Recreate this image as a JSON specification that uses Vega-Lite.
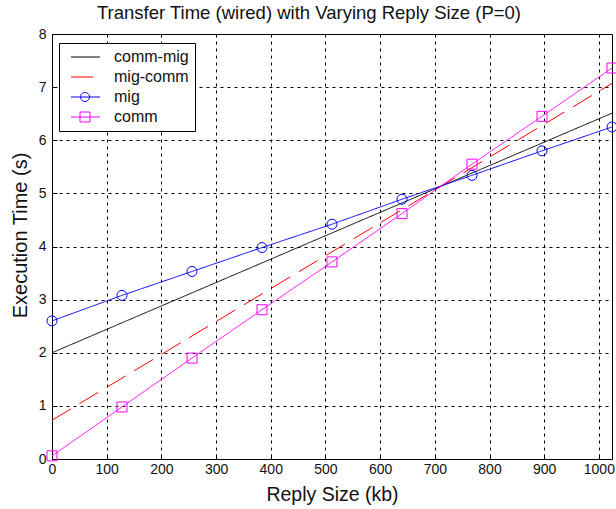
{
  "$schema": "https://vega.github.io/schema/vega-lite/v6.json",
  "width": 560,
  "height": 425,
  "autosize": {"type": "none"},
  "padding": {"left": 52, "top": 34, "right": 4, "bottom": 50},
  "background": "white",
  "title": {
    "text": "Transfer Time (wired) with Varying Reply Size (P=0)",
    "font": "Liberation Sans",
    "fontSize": 18.5,
    "fontWeight": "normal",
    "color": "#111111",
    "anchor": "middle",
    "dx": -23,
    "offset": 5
  },
  "config": {
    "view": {"stroke": "#000000", "strokeWidth": 1},
    "axis": {
      "labelFont": "Liberation Sans",
      "labelFontSize": 14,
      "labelColor": "#111111",
      "titleFont": "Liberation Sans",
      "titleFontWeight": "normal",
      "titleColor": "#111111",
      "domainColor": "#000000",
      "tickColor": "#000000",
      "gridColor": "#000000",
      "gridDash": [3, 4],
      "gridOpacity": 1,
      "gridWidth": 1
    }
  },
  "datasets": {
    "series": [
      {"x": 0, "y": 2.0, "series": "comm-mig"},
      {"x": 1024, "y": 6.51, "series": "comm-mig"},
      {"x": 0, "y": 0.73, "series": "mig-comm"},
      {"x": 1024, "y": 7.07, "series": "mig-comm"},
      {"x": 0, "y": 2.6, "series": "mig"},
      {"x": 128, "y": 3.08, "series": "mig"},
      {"x": 256, "y": 3.53, "series": "mig"},
      {"x": 384, "y": 3.98, "series": "mig"},
      {"x": 512, "y": 4.42, "series": "mig"},
      {"x": 640, "y": 4.89, "series": "mig"},
      {"x": 768, "y": 5.34, "series": "mig"},
      {"x": 896, "y": 5.8, "series": "mig"},
      {"x": 1024, "y": 6.25, "series": "mig"},
      {"x": 0, "y": 0.06, "series": "comm"},
      {"x": 128, "y": 0.98, "series": "comm"},
      {"x": 256, "y": 1.9, "series": "comm"},
      {"x": 384, "y": 2.81, "series": "comm"},
      {"x": 512, "y": 3.71, "series": "comm"},
      {"x": 640, "y": 4.62, "series": "comm"},
      {"x": 768, "y": 5.55, "series": "comm"},
      {"x": 896, "y": 6.45, "series": "comm"},
      {"x": 1024, "y": 7.36, "series": "comm"}
    ]
  },
  "data": {"name": "series"},
  "encoding": {
    "x": {
      "field": "x",
      "type": "quantitative",
      "scale": {"domain": [0, 1024], "nice": false, "zero": false},
      "axis": {
        "title": "Reply Size (kb)",
        "titleFontSize": 19.5,
        "titleY": 26,
        "format": "d",
        "values": [0, 100, 200, 300, 400, 500, 600, 700, 800, 900, 1000],
        "tickSize": -5,
        "labelPadding": 8,
        "labelFlush": false,
        "labelOverlap": false
      }
    },
    "y": {
      "field": "y",
      "type": "quantitative",
      "scale": {"domain": [0, 8], "nice": false},
      "axis": {
        "title": "Execution Time (s)",
        "titleFontSize": 20,
        "titleX": -22,
        "titleY": 201,
        "format": "d",
        "values": [0, 1, 2, 3, 4, 5, 6, 7, 8],
        "tickSize": -5,
        "labelPadding": 11,
        "labelFlush": false,
        "labelOverlap": false
      }
    },
    "color": {
      "field": "series",
      "type": "nominal",
      "scale": {
        "domain": ["comm-mig", "mig-comm", "mig", "comm"],
        "range": ["#000000", "#ff0000", "#0000ff", "#ff00ff"]
      }
    }
  },
  "layer": [
    {
      "mark": {"type": "line", "strokeWidth": 1},
      "encoding": {
        "strokeDash": {
          "field": "series",
          "type": "nominal",
          "scale": {
            "domain": ["comm-mig", "mig-comm", "mig", "comm"],
            "range": [[1, 0], [22, 10], [1, 0], [1, 0]]
          },
          "legend": null
        },
        "color": {
          "field": "series",
          "type": "nominal",
          "scale": {
            "domain": ["comm-mig", "mig-comm", "mig", "comm"],
            "range": ["#000000", "#ff0000", "#0000ff", "#ff00ff"]
          },
          "legend": {
            "title": null,
            "orient": "none",
            "legendX": 7,
            "legendY": 9,
            "fillColor": "#ffffff",
            "strokeColor": "#000000",
            "padding": 6,
            "rowPadding": 4,
            "symbolSize": 100,
            "symbolStrokeWidth": 1,
            "symbolFillColor": "transparent",
            "labelFont": "Liberation Sans",
            "labelFontSize": 16,
            "labelColor": "#111111",
            "labelOffset": 33,
            "encode": {
              "symbols": {
                "update": {
                  "fill": {"value": "transparent"},
                  "strokeWidth": {"value": 1},
                  "opacity": {"value": 1},
                  "shape": [
                    {"test": "datum.value === 'mig'", "value": "M-0.4,0H5.4M3.3,0A0.9,0.9 0 1,1 1.5,0A0.9,0.9 0 1,1 3.3,0"},
                    {"test": "datum.value === 'comm'", "value": "M-0.4,0H5.4M1.4,-1H3.4V1H1.4Z"},
                    {"test": "datum.value === 'mig-comm'", "value": "M-0.4,0H4.4"},
                    {"value": "M-0.4,0H5.4"}
                  ]
                }
              }
            }
          }
        }
      }
    },
    {
      "transform": [{"filter": "datum.series === 'mig' || datum.series === 'comm'"}],
      "mark": {"type": "point", "filled": false, "strokeWidth": 1, "opacity": 1},
      "encoding": {
        "shape": {
          "field": "series",
          "type": "nominal",
          "scale": {"domain": ["mig", "comm"], "range": ["circle", "square"]},
          "legend": null
        },
        "size": {"value": 100},
        "color": {
          "field": "series",
          "type": "nominal",
          "scale": {
            "domain": ["comm-mig", "mig-comm", "mig", "comm"],
            "range": ["#000000", "#ff0000", "#0000ff", "#ff00ff"]
          },
          "legend": null
        }
      }
    }
  ]
}
